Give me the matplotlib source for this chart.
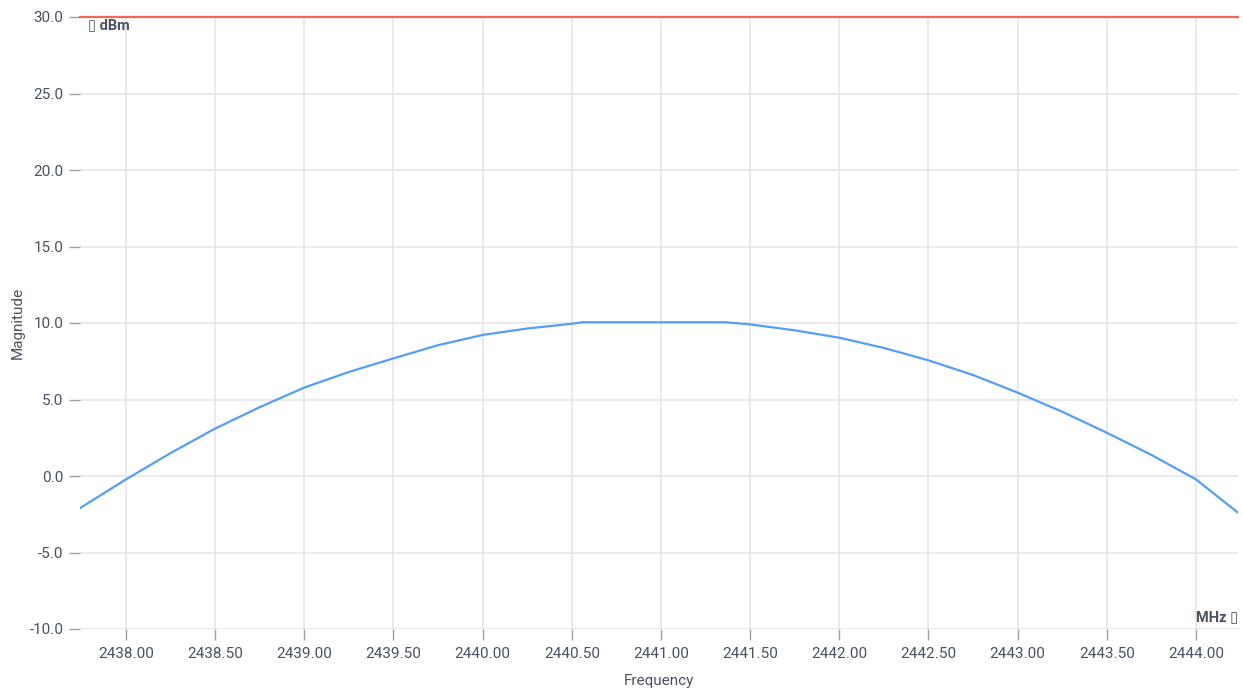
import matplotlib
matplotlib.use("Agg")
import matplotlib.pyplot as plt
from matplotlib.ticker import FormatStrFormatter, MultipleLocator

plt.rcParams['font.family'] = ['Roboto', 'DejaVu Sans']

# Data
freq_mhz = [2437.742, 2438.0, 2438.25, 2438.5, 2438.75, 2439.0, 2439.25, 2439.5,
            2439.75, 2440.0, 2440.25, 2440.5, 2440.56, 2441.36, 2441.5, 2441.75,
            2442.0, 2442.25, 2442.5, 2442.75, 2443.0, 2443.25, 2443.5, 2443.75,
            2444.0, 2444.236]
magnitude_dbm = [-2.1, -0.22, 1.5, 3.1, 4.5, 5.78, 6.8, 7.69,
                 8.55, 9.22, 9.64, 9.95, 10.05, 10.05, 9.91, 9.52,
                 9.04, 8.37, 7.56, 6.6, 5.45, 4.2, 2.83, 1.38,
                 -0.22, -2.4]
limit_dbm = 30.0
x_range = [2437.742, 2444.236]
y_range = [-10.0, 30.0]

text_color = '#4a5160'
grid_color = '#e3e4ea'
tick_color = '#9ba0aa'

fig = plt.figure(figsize=(12.43, 6.90), dpi=100)
ax = fig.add_axes([80 / 1243, 1 - 629 / 690, (1238 - 80) / 1243, (629 - 17) / 690])

ax.plot(freq_mhz, magnitude_dbm, color='#559ef5', lw=1.6, zorder=3)
ax.axhline(limit_dbm, color='#f0675a', lw=1.6, zorder=4, clip_on=False)

ax.set_xlim(*x_range)
ax.set_ylim(*y_range)
ax.xaxis.set_major_locator(MultipleLocator(0.5))
ax.yaxis.set_major_locator(MultipleLocator(5))
ax.xaxis.set_major_formatter(FormatStrFormatter('%.2f'))
ax.yaxis.set_major_formatter(FormatStrFormatter('%.1f'))

for s in ax.spines.values():
    s.set_visible(False)
ax.grid(True, color=grid_color, lw=1.1, zorder=0)
ax.set_axisbelow(True)
ax.tick_params(axis='both', colors=tick_color, labelcolor=text_color,
               labelsize=11, length=8, width=1)
ax.tick_params(axis='y', pad=4)
ax.tick_params(axis='x', pad=5)

ax.set_xlabel('Frequency', color=text_color, fontsize=11, labelpad=9)
ax.set_ylabel('Magnitude', color=text_color, fontsize=11, labelpad=3)

ax.text(88 / 1243, 1 - 25 / 690, '\u25af dBm', transform=fig.transFigure,
        ha='left', va='center', fontsize=10.5, fontweight='bold', color=text_color,
        family=['Roboto', 'DejaVu Sans'])
ax.text(1238 / 1243, 1 - 617 / 690, 'MHz \u25af', transform=fig.transFigure,
        ha='right', va='center', fontsize=10.5, fontweight='bold', color=text_color,
        family=['Roboto', 'DejaVu Sans'])

fig.savefig('out.png', dpi=100)
